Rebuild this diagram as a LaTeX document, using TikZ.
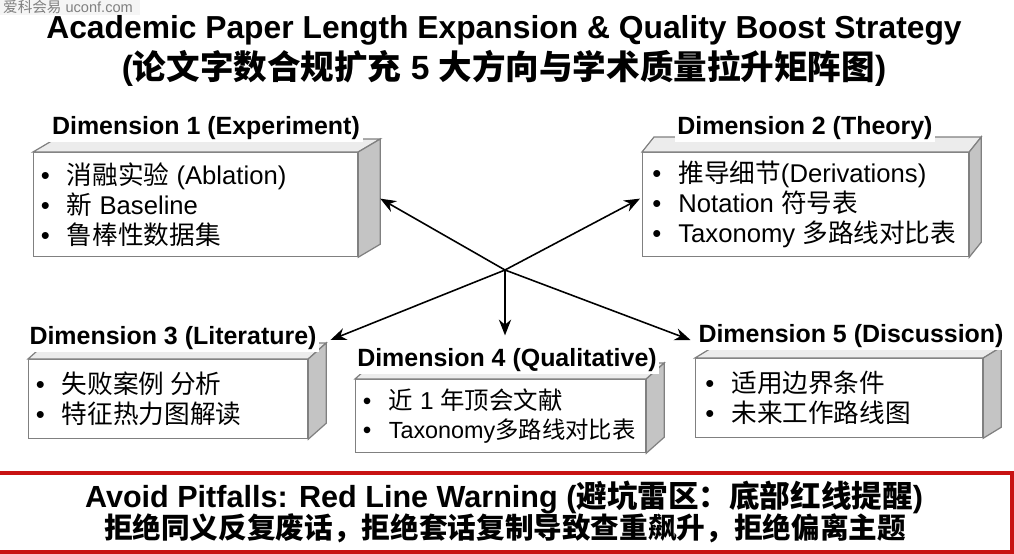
\documentclass[tikz,border=0pt]{standalone}
\usepackage{fontspec}
\setmainfont{Liberation Sans}
\newfontfamily\cjk{Noto Sans CJK SC}
\usepackage{tikz}
\usetikzlibrary{arrows.meta}
\newcommand{\zh}[1]{{\cjk #1}}
\newcommand{\itm}[1]{\makebox[0.52cm][l]{\textbullet}#1}
\definecolor{boxedge}{RGB}{128,128,128}
\definecolor{topgray}{RGB}{236,236,236}
\definecolor{sidegray}{RGB}{196,196,196}
\definecolor{warnred}{RGB}{200,18,18}

\begin{document}
\begin{tikzpicture}[>=Stealth,x=0.02cm,y=-0.02cm,
    faceline/.style={draw=boxedge,line width=0.7pt},
    frontface/.style={faceline,fill=white,inner sep=0pt},
    dimlabel/.style={fill=white,inner sep=1.5pt,font=\fontsize{14.2}{16}\selectfont\bfseries},
    items/.style={inner sep=0pt,anchor=west,align=left,font=\fontsize{14.6}{17}\selectfont},
    conn/.style={->,line width=0.9pt,>={Stealth[length=9pt,width=7pt]}},
    headline/.style={font=\fontsize{18.1}{22}\selectfont\bfseries,inner sep=0pt}]
  \useasboundingbox (0,0) rectangle (1014,554);
  %
  % Watermark
  \fill[gray!8] (0,0) rectangle (140,15);
  \node[text=gray,inner sep=0pt,font=\fontsize{8.3}{10}\selectfont] (mark) at (68,6.5)
    {\zh{爱科会易} uconf.com};
  %
  % Title
  \node[headline] (title1) at (504,30)
    {Academic Paper Length Expansion \& Quality Boost Strategy};
  \node[headline,font=\fontsize{19.1}{22}\selectfont\bfseries] (title2) at (504,68)
    {(\zh{论文字数合规扩充} 5 \zh{大方向与学术质量拉升矩阵图})};
  %
  % Boxes: name/left/top/right/bottom/depth x/depth y
  \foreach \n/\xa/\ya/\xb/\yb/\dx/\dy in {1/33/152/357/256/22/-13,
      2/642/152/968/256/12/-15, 3/28/359/307/438/18/-16,
      4/355/379/645/452/18/-16, 5/695/358/982/437/18/-11}{
    \node[frontface,anchor=north west,minimum width={(\xb-\xa)*0.02cm},
      minimum height={(\yb-\ya)*0.02cm}] (b\n) at (\xa,\ya) {};
    \draw[faceline,fill=topgray] (b\n.north west) -- ++(\dx,\dy)
      -- ([shift={(\dx,\dy)}]b\n.north east) -- (b\n.north east) -- cycle;
    \draw[faceline,fill=sidegray] (b\n.north east) -- ([shift={(\dx,\dy)}]b\n.north east)
      -- ([shift={(\dx,\dy)}]b\n.south east) -- (b\n.south east) -- cycle;
  }
  %
  % Box texts
  \node[items] (i1) at ([xshift=7.5*0.02cm]b1.west)
    {\itm{\zh{消融实验} (Ablation)}\\ \itm{\zh{新} Baseline}\\ \itm{\zh{鲁棒性数据集}}};
  \node[items] (i2) at ([xshift=10*0.02cm]b2.west)
    {\itm{\zh{推导细节}(Derivations)}\\ \itm{Notation \zh{符号表}}\\ \itm{Taxonomy \zh{多路线对比表}}};
  \node[items] (i3) at ([xshift=7.5*0.02cm]b3.west)
    {\itm{\zh{失败案例 分析}}\\ \itm{\zh{特征热力图解读}}};
  \node[items,font=\fontsize{13.9}{17}\selectfont] (i4) at ([xshift=7.5*0.02cm]b4.west)
    {\itm{\zh{近} 1 \zh{年顶会文献}}\\
     \itm{\fontsize{13.3}{17}\selectfont Taxonomy\zh{多路线对比表}}};
  \node[items] (i5) at ([xshift=10*0.02cm]b5.west)
    {\itm{\zh{适用边界条件}}\\ \itm{\zh{未来工作路线图}}};
  %
  % Labels
  \node[dimlabel] (t1) at (206,128) {Dimension 1 (Experiment)};
  \node[dimlabel] (t2) at (805,128) {Dimension 2 (Theory)};
  \node[dimlabel] (t3) at (173,338) {Dimension 3 (Literature)};
  \node[dimlabel] (t4) at (507,360) {Dimension 4 (Qualitative)};
  \node[dimlabel] (t5) at (851,336) {Dimension 5 (Discussion)};
  %
  % Arrows from the hub
  \coordinate (hub) at (505,270);
  \draw[conn] (hub) -- ([shift={(22,-6)}]b1.east);
  \draw[conn] (hub) -- ([shift={(-2,-6)}]b2.west);
  \draw[conn] (hub) -- ([shift={(11,2)}]t3.east);
  \draw[conn,shorten >=10*0.02cm] (hub) -- (hub |- t4.north);
  \draw[conn] (hub) -- ([shift={(-5,4)}]t5.west);
  %
  % Warning
  \draw[warnred,line width=2.2pt] (-10,473) rectangle (1012,552);
  \node[font=\fontsize{17.4}{20}\selectfont\bfseries,inner sep=0pt] (w1) at (504,497)
    {Avoid Pitfalls: Red Line Warning (\zh{避坑雷区：底部红线提醒})};
  \node[font=\fontsize{16.3}{20}\selectfont\bfseries,inner sep=0pt] (w2) at (505,528)
    {\zh{拒绝同义反复废话，拒绝套话复制导致查重飙升，拒绝偏离主题}};
  %
\end{tikzpicture}
\end{document}
